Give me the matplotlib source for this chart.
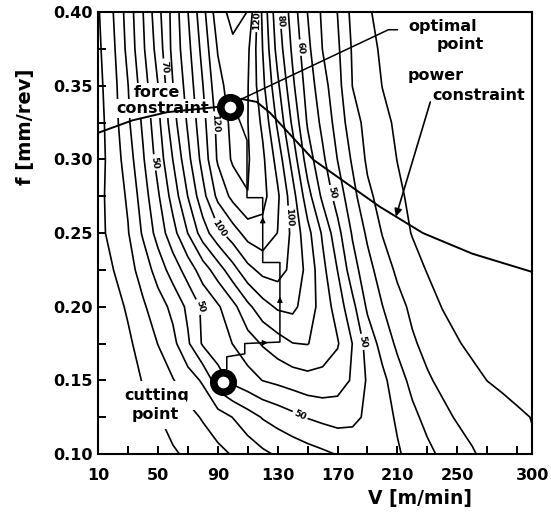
import numpy as np
import matplotlib
matplotlib.use('Agg')
import matplotlib.pyplot as plt

# grid of the map: cutting speed V [m/min] (columns) and feed f [mm/rev] (rows)
speed = [10, 20, 30, 40, 50, 60, 70, 80, 90, 100, 110, 120, 130, 140, 150,
         160, 170, 180, 190, 200, 210, 220, 230, 240, 250, 260, 270, 280, 290, 300]
feed = [0.100, 0.125, 0.150, 0.175, 0.200, 0.225, 0.250, 0.275, 0.300,
        0.325, 0.350, 0.375, 0.400]

# contour value (in units of 10) at each grid node, one row per feed
level = [
    [0.10, 0.23, 0.40, 0.57, 0.73, 0.90, 1.13, 1.44, 1.75, 2.07, 2.44, 2.81, 3.12, 3.35, 3.58,
     3.81, 4.05, 4.30, 4.40, 4.30, 4.10, 3.71, 3.24, 2.81, 2.44, 2.07, 1.81, 1.58, 1.35, 1.12],
    [0.10, 0.30, 0.50, 0.70, 0.95, 1.31, 1.69, 2.09, 2.55, 3.02, 3.56, 4.07, 4.40, 4.73, 5.05,
     5.25, 5.40, 5.25, 4.82, 4.36, 3.88, 3.25, 2.71, 2.24, 1.91, 1.74, 1.56, 1.39, 1.18, 0.97],
    [0.10, 0.30, 0.60, 1.05, 1.50, 1.95, 2.50, 3.14, 4.57, 5.26, 5.63, 6.02, 6.23, 6.45, 6.65,
     6.68, 6.45, 5.89, 4.88, 4.25, 3.45, 2.71, 2.12, 1.79, 1.53, 1.26, 0.99, 0.80, 0.60, 0.40],
    [0.10, 0.40, 0.82, 1.41, 2.02, 2.71, 3.86, 5.13, 5.57, 6.02, 6.56, 7.09, 7.55, 7.98, 8.04,
     7.55, 7.09, 5.98, 4.60, 3.64, 2.80, 2.13, 1.73, 1.40, 1.07, 0.80, 0.60, 0.45, 0.30, 0.20],
    [0.20, 0.60, 1.14, 1.86, 2.53, 3.27, 4.22, 5.20, 5.87, 6.70, 7.76, 8.62, 9.15, 9.25, 8.50,
     7.60, 6.56, 5.29, 3.83, 3.02, 2.33, 1.79, 1.38, 0.97, 0.70, 0.50, 0.35, 0.25, 0.15, 0.10],
    [0.40, 0.98, 1.63, 2.40, 3.44, 4.45, 5.44, 6.50, 7.50, 8.63, 9.70, 10.30, 10.40, 9.73, 8.71,
     7.29, 5.98, 4.43, 3.36, 2.50, 1.82, 1.36, 0.95, 0.70, 0.50, 0.35, 0.25, 0.15, 0.10, 0.05],
    [0.70, 1.31, 1.94, 3.13, 4.38, 5.63, 7.02, 8.50, 9.70, 10.54, 11.40, 11.65, 10.98, 9.75, 8.33,
     6.86, 5.33, 3.89, 2.82, 1.95, 1.42, 0.95, 0.70, 0.50, 0.35, 0.25, 0.15, 0.10, 0.05, 0.00],
    [0.70, 1.40, 2.14, 3.50, 4.86, 6.40, 8.02, 9.67, 11.25, 12.28, 12.98, 12.33, 11.17, 9.40, 7.40,
     5.78, 4.57, 3.33, 2.22, 1.64, 1.18, 0.80, 0.60, 0.45, 0.30, 0.20, 0.10, 0.05, 0.00, 0.00],
    [0.60, 1.42, 2.50, 3.88, 5.38, 7.02, 8.71, 10.36, 12.13, 13.15, 13.10, 12.20, 10.60, 8.60, 6.50,
     5.20, 3.98, 2.86, 1.83, 1.42, 0.98, 0.70, 0.50, 0.35, 0.25, 0.15, 0.10, 0.05, 0.00, 0.00],
    [0.60, 1.55, 2.83, 4.17, 5.71, 7.60, 9.14, 10.67, 12.29, 13.30, 13.02, 11.80, 9.80, 7.80, 5.89,
     4.75, 3.60, 2.43, 1.68, 1.23, 0.85, 0.60, 0.40, 0.30, 0.20, 0.10, 0.05, 0.00, 0.00, 0.00],
    [0.70, 1.64, 2.98, 4.50, 5.98, 7.98, 9.43, 10.98, 12.67, 13.50, 13.05, 11.25, 9.20, 7.20, 5.56,
     4.38, 3.36, 1.98, 1.50, 0.98, 0.75, 0.50, 0.35, 0.20, 0.10, 0.05, 0.00, 0.00, 0.00, 0.00],
    [0.80, 1.80, 3.29, 4.83, 6.40, 8.29, 9.71, 11.33, 13.07, 13.80, 13.20, 10.98, 8.60, 6.80, 5.25,
     3.98, 3.17, 1.89, 1.33, 0.85, 0.60, 0.40, 0.25, 0.15, 0.05, 0.00, 0.00, 0.00, 0.00, 0.00],
    [0.90, 1.98, 3.43, 4.98, 6.67, 8.33, 9.98, 11.67, 13.60, 14.30, 13.98, 10.75, 8.25, 6.50, 4.98,
     3.83, 2.98, 1.71, 1.12, 0.70, 0.50, 0.30, 0.20, 0.10, 0.05, 0.00, 0.00, 0.00, 0.00, 0.00],
]
contour_levels = [1, 2, 3, 4, 5, 6, 7, 8, 9, 10, 11, 12, 13, 14]

# where the contour values are written on the map
label_at = [(56, 0.363), (90, 0.325), (48, 0.298), (89.5, 0.252), (78, 0.200),
            (117, 0.394), (130, 0.394), (147, 0.376), (138, 0.261), (165, 0.277),
            (186, 0.176), (145, 0.1265)]

# constraints
force_V = [10, 33, 56, 90, 106]
force_f = [0.318, 0.3265, 0.332, 0.3356, 0.341]
power_V = [106, 116, 125, 154, 198, 227, 260, 300]
power_f = [0.341, 0.339, 0.3315, 0.2996, 0.268, 0.250, 0.236, 0.2236]
leader_V = [106, 204, 210]
leader_f = [0.341, 0.388, 0.388]
power_tail = (232, 0.339)
power_tip_V = 209

# search path from the cutting point to the optimal point
path_V = [93.5, 96, 96, 108, 108, 131.5, 131.5, 120, 120, 109.5, 109.5, 103.5, 98]
path_f = [0.150, 0.158, 0.166, 0.168, 0.175, 0.176, 0.230, 0.230, 0.274, 0.274, 0.313, 0.329, 0.3355]
cutting_pt = (93.5, 0.149)
optimal_pt = (98, 0.3355)

plt.rcParams['font.family'] = 'DejaVu Sans'
plt.rcParams['font.weight'] = 'bold'

fig = plt.figure(figsize=(5.51, 5.19), dpi=100)
ax = fig.add_axes([0.178, 0.1252, 0.7877, 0.8516])

cs = ax.contour(speed, feed, np.array(level), levels=contour_levels,
                colors='black', linewidths=1.2, zorder=2)
labels = ax.clabel(cs, manual=label_at, inline=True, inline_spacing=2,
                   fmt=lambda v: '%d' % round(v * 10), fontsize=6.5)
for t in labels:
    t.set_fontweight('bold')

ax.plot(force_V, force_f, color='black', lw=1.4, zorder=4)
ax.plot(power_V, power_f, color='black', lw=1.4, zorder=4)
ax.plot(leader_V, leader_f, color='black', lw=1.1, zorder=4)
tip_f = np.interp(power_tip_V, power_V, power_f)
ax.annotate('', xy=(power_tip_V, tip_f), xytext=power_tail,
            arrowprops=dict(arrowstyle='-|>', color='black', lw=1.2,
                            mutation_scale=11, shrinkA=0, shrinkB=0), zorder=4)

ax.plot(path_V, path_f, color='black', lw=1.1, zorder=4)
for i, t in [(4, 0.66), (5, 0.57), (7, 0.7)]:
    x0, y0, x1, y1 = path_V[i], path_f[i], path_V[i + 1], path_f[i + 1]
    ax.annotate('', xy=(x0 + (x1 - x0) * t, y0 + (y1 - y0) * t),
                xytext=(x0 + (x1 - x0) * (t - 0.08), y0 + (y1 - y0) * (t - 0.08)),
                arrowprops=dict(arrowstyle='-|>', color='black', lw=0.8,
                                mutation_scale=8, shrinkA=0, shrinkB=0), zorder=4)

for p in (cutting_pt, optimal_pt):
    ax.plot(*p, marker='o', ms=14, mew=5.5, mfc='white', mec='black', zorder=5)

box = dict(facecolor='white', edgecolor='none', pad=1.5)
tk = dict(fontsize=11.5, fontweight='bold', zorder=3)
ax.text(49.4, 0.3424, 'force', ha='center', va='baseline', bbox=box, **tk)
ax.text(53.4, 0.3315, 'constraint', ha='center', va='baseline', bbox=box, **tk)
ax.text(49.4, 0.1367, 'cutting', ha='center', va='baseline',
        bbox=dict(facecolor='white', edgecolor='none', pad=5), **tk)
ax.text(48.1, 0.1238, 'point', ha='center', va='baseline',
        bbox=dict(facecolor='white', edgecolor='none', pad=5), **tk)
ax.text(217.1, 0.3872, 'optimal', ha='left', va='baseline', **tk)
ax.text(236.5, 0.3750, 'point', ha='left', va='baseline', **tk)
ax.text(217.1, 0.3540, 'power', ha='left', va='baseline', **tk)
ax.text(233.2, 0.3403, 'constraint', ha='left', va='baseline', **tk)

ax.set_xlim(10, 300)
ax.set_ylim(0.10, 0.40)
ax.set_xticks([10, 50, 90, 130, 170, 210, 250, 300])
ax.set_xticks([30, 70, 110, 150, 190, 230, 270, 290], minor=True)
ax.set_yticks([0.10, 0.15, 0.20, 0.25, 0.30, 0.35, 0.40])
ax.set_yticks([0.125, 0.175, 0.225, 0.275, 0.325, 0.375], minor=True)
ax.set_yticklabels(['%.2f' % v for v in [0.10, 0.15, 0.20, 0.25, 0.30, 0.35, 0.40]])
ax.tick_params(which='both', direction='in', length=6, width=1.4, labelsize=11.5)
ax.tick_params(axis='x', pad=10)
ax.tick_params(axis='y', pad=4)
for lab in ax.get_xticklabels() + ax.get_yticklabels():
    lab.set_fontweight('bold')
for s in ax.spines.values():
    s.set_linewidth(1.5)

ax.text(0.742, -0.10, 'V [m/min]', transform=ax.transAxes, ha='center', va='center',
        fontsize=13.5, fontweight='bold')
ax.text(-0.168, 0.74, 'f [mm/rev]', transform=ax.transAxes, ha='center', va='center',
        rotation=90, fontsize=14, fontweight='bold')

fig.savefig('out.png', dpi=100)
